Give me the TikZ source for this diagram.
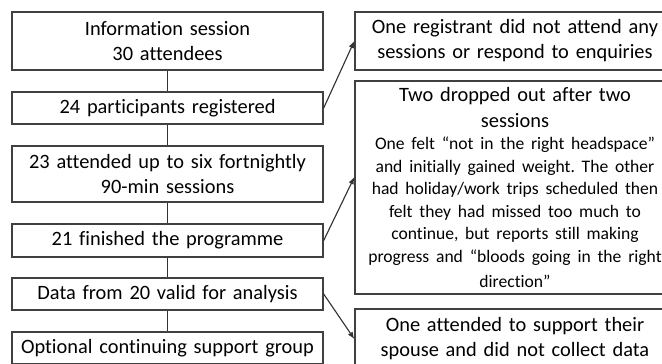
\documentclass[tikz,border=0pt]{standalone}
\usepackage{fontspec}
\setmainfont{Carlito}[Ligatures=NoCommon]
\usetikzlibrary{arrows.meta}
\frenchspacing
\tikzset{
  flowbox/.style={draw=black!75, line width=0.9pt, align=center, inner sep=0pt,
    font=\fontsize{14.5pt}{17.8pt}\selectfont},
  leftbox/.style={flowbox, minimum width=7.775cm, text width=7.775cm},
  rightbox/.style={flowbox, minimum width=8cm, text width=8cm},
  link/.style={draw=black!80, line width=0.8pt},
  exitarrow/.style={link, -{Latex[length=5pt,width=4pt]}}
}
\newcommand{\smalltext}{\fontsize{12.5pt}{16pt}\selectfont}
\begin{document}
\begin{tikzpicture}[x=0.025cm, y=-0.025cm]
    \useasboundingbox (0,0) rectangle (662,363);
    \clip (0,0) rectangle (662,363);
    % main flow
    \node[leftbox, minimum height=1.45cm] (info) at (167.5,41) {Information session\\30 attendees};
    \node[leftbox, minimum height=0.8cm] (reg) at (167.5,108) {24 participants registered};
    \node[leftbox, minimum height=1.4cm] (attend) at (167.5,174) {23 attended up to six fortnightly\\90-min sessions};
    \node[leftbox, minimum height=0.825cm] (finish) at (167.5,240.5) {21 finished the programme};
    \node[leftbox, minimum height=0.8cm] (data) at (167.5,294) {Data from 20 valid for analysis};
    \node[leftbox, minimum height=0.8cm] (support) at (167.5,348) {Optional continuing support group};
    % side boxes
    \node[rightbox, minimum height=1.45cm] (noattend) at (515,41) {One registrant did not attend any\\sessions or respond to enquiries};
    \node[rightbox, minimum height=5.325cm] (dropout) at (515,187.5) {Two dropped out after two\\sessions\par
        \smalltext One felt \char"201C not in the right headspace\char"201D\\and initially gained weight. The other\\had holiday/work trips scheduled then\\felt they had missed too much to\\continue, but reports still making\\progress and \char"201C bloods going in the right\\direction\char"201D};
    \node[rightbox, minimum height=1.5cm] (spouse) at (515,339) {One attended to support their\\spouse and did not collect data};
    % connectors
    \draw[link] (info) -- (reg);
    \draw[link] (reg) -- (attend);
    \draw[link] (attend) -- (finish);
    \draw[link] (finish) -- (data);
    \draw[link] (data) -- (support);
    \draw[exitarrow] (reg.east) -- (noattend.west);
    \draw[exitarrow] (finish.east) -- ([yshift=0.26cm]dropout.west);
    \draw[exitarrow] (data.east) -- (spouse.west);
\end{tikzpicture}
\end{document}
